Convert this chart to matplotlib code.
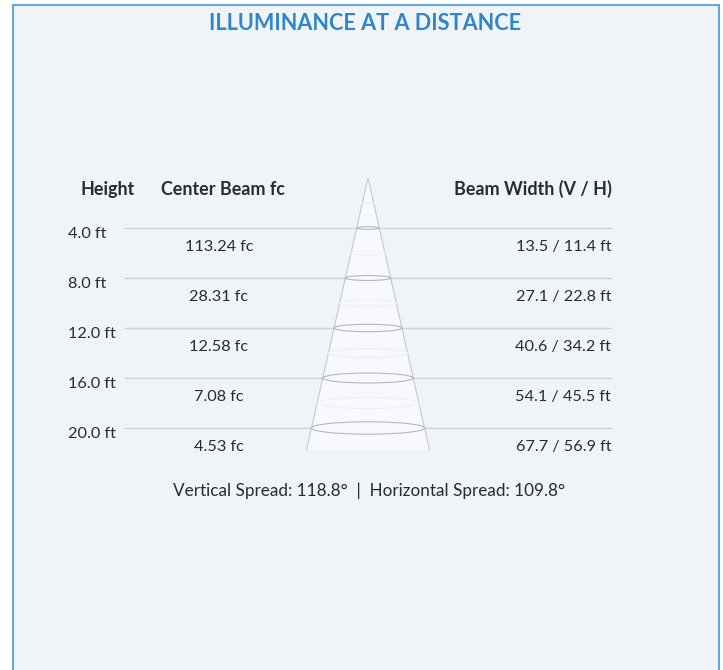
import matplotlib
matplotlib.use("Agg")
import matplotlib.pyplot as plt
from matplotlib.patches import Rectangle, Ellipse, Polygon
from matplotlib.transforms import IdentityTransform

# ---- data ----
heights = [4.0, 8.0, 12.0, 16.0, 20.0]
height_labels = ["4.0 ft", "8.0 ft", "12.0 ft", "16.0 ft", "20.0 ft"]
center_fc = [113.24, 28.31, 12.58, 7.08, 4.53]
beam_v = [13.5, 27.1, 40.6, 54.1, 67.7]
beam_h = [11.4, 22.8, 34.2, 45.5, 56.9]
vertical_spread = 118.8
horizontal_spread = 109.8
title = "ILLUMINANCE AT A DISTANCE"
headers = ["Height", "Center Beam fc", "Beam Width (V / H)"]

# ---- figure ----
W, H = 723, 670
fig = plt.figure(figsize=(W / 100, H / 100), dpi=100)
fig.patch.set_facecolor("white")
FONT = "Lato"
TXT = "#2b2b2b"
HDR = 12.9
VAL = 11.7

# axes: x in pixels, y in feet (height below fixture); 12.5 px per ft, apex at 178 px
PX_PER_FT = 12.5
APEX_PX = 178.0
ax = fig.add_axes([0, 0, 1, 1])
ax.set_xlim(0, W)
ax.set_ylim((H - APEX_PX) / PX_PER_FT, (0 - APEX_PX) / PX_PER_FT)
ax.axis("off")


def ft(px):
    return (px - APEX_PX) / PX_PER_FT


def disp(x, y):
    return x, H - y


# panel
ax.add_patch(Rectangle((12.5, ft(4.5)), 706, ft(700) - ft(4.5),
                       facecolor="#eff4f9", edgecolor="#6aa6dc", lw=1.5, zorder=0))

# title
fig.text(*disp(365, 30), title, transform=IdentityTransform(), ha="center",
         va="baseline", fontsize=15.6, fontweight="bold", color="#2f86c9",
         family=FONT)

# headers
fig.text(*disp(81, 195), headers[0], transform=IdentityTransform(), ha="left",
         va="baseline", fontsize=HDR, fontweight="bold", color=TXT, family=FONT)
fig.text(*disp(161, 195), headers[1], transform=IdentityTransform(), ha="left",
         va="baseline", fontsize=HDR, fontweight="bold", color=TXT, family=FONT)
fig.text(*disp(612, 195), headers[2], transform=IdentityTransform(), ha="right",
         va="baseline", fontsize=HDR, fontweight="bold", color=TXT, family=FONT)

# row lines
for h in heights:
    ax.plot([125, 611], [h, h], color="#cdd2d8", lw=1.0, zorder=1)

# cone
bottom_ft = ft(450)
half_at_bottom = 61.5
cx = 368.0
cone = Polygon([(cx, 0), (cx - half_at_bottom, bottom_ft), (cx + half_at_bottom, bottom_ft)],
               closed=True, facecolor="#f7f9fc", edgecolor="none", zorder=2)
ax.add_patch(cone)
ax.plot([cx - half_at_bottom, cx, cx + half_at_bottom], [bottom_ft, 0, bottom_ft],
        color="#c6c9cd", lw=0.8, zorder=3)


def half_w(h):
    return half_at_bottom * h / bottom_ft


# faint intermediate rings
for h in heights:
    hm = h - 2.0
    if hm > 0:
        w = 2 * half_w(hm)
        ax.add_patch(Ellipse((cx, hm), w, 0.11 * w / PX_PER_FT, facecolor="none",
                             edgecolor="#eef1f4", lw=0.8, zorder=3))
# main rings
for h in heights:
    w = 2 * half_w(h)
    ax.add_patch(Ellipse((cx, h), w, 0.11 * w / PX_PER_FT, facecolor="none",
                         edgecolor="#b4b8bd", lw=0.8, zorder=4))

# row labels
for h, lab, fc, v, hh in zip(heights, height_labels, center_fc, beam_v, beam_h):
    ax.text(68, h + 10 / PX_PER_FT, lab, ha="left", va="baseline", fontsize=VAL,
            color=TXT, family=FONT, zorder=5)
    ax.text(219, h + 23 / PX_PER_FT, f"{fc:.2f} fc", ha="center", va="baseline",
            fontsize=VAL, color=TXT, family=FONT, zorder=5)
    ax.text(611, h + 23 / PX_PER_FT, f"{v:.1f} / {hh:.1f} ft", ha="right",
            va="baseline", fontsize=VAL, color=TXT, family=FONT, zorder=5)

# footer
fig.text(*disp(369, 496), f"Vertical Spread: {vertical_spread:.1f}°  |  Horizontal Spread: {horizontal_spread:.1f}°",
         transform=IdentityTransform(), ha="center", va="baseline", fontsize=12.3,
         color=TXT, family=FONT)

fig.savefig("out.png", dpi=100, facecolor="white")
